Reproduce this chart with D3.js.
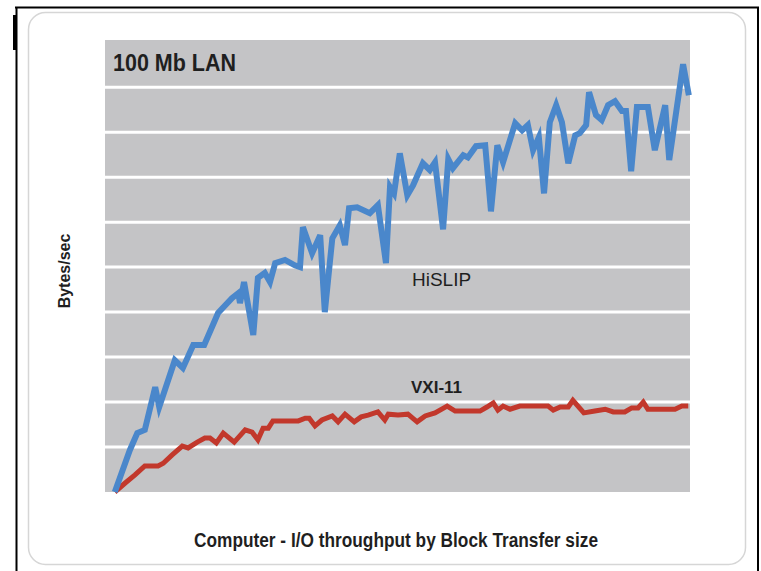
<html>
    <head>
        <script src="https://d3js.org/d3.v7.min.js"></script>
        <title>100 Mb LAN throughput</title>
        <style>
            body { margin: 0; background: white; }
        </style>
    </head>
    <body>
        <div id="chart-container"></div>
        <script>
            // block transfer size (arbitrary index 0..100) and rate (grid units)
            const hislipBlock = [0.3, 2.9, 4.2, 5.5, 7.3, 8.0, 10.7, 12.1, 13.9, 15.8, 18.2, 20.6, 21.7, 22.0, 22.7, 24.3, 25.1, 26.3, 27.2, 28.1,
                29.8, 31.5, 32.4, 32.9, 34.5, 35.9, 36.7, 38.0, 39.3, 40.2, 40.9, 42.3, 44.5, 45.9, 47.3, 48.0, 48.7, 49.7, 51.0, 52.0,
                53.7, 54.9, 55.8, 57.2, 58.1, 58.9, 60.7, 61.5, 62.9, 64.5, 65.5, 66.6, 67.6, 69.7, 70.9, 71.9, 72.8, 73.8, 74.7, 75.7,
                76.8, 77.8, 78.9, 80.1, 80.9, 82.0, 82.5, 83.7, 84.7, 85.8, 87.0, 88.2, 88.9, 89.8, 90.8, 92.7, 93.9, 95.7, 96.4, 98.8, 99.8];
            const hislipRate = [0.0, 0.93, 1.31, 1.38, 2.33, 1.89, 2.93, 2.76, 3.27, 3.27, 3.98, 4.31, 4.42, 4.20, 4.67, 3.49, 4.76, 4.87, 4.67, 5.09,
                5.16, 5.04, 5.00, 5.89, 5.31, 5.71, 4.00, 5.64, 5.93, 5.49, 6.31, 6.33, 6.20, 6.38, 5.09, 6.78, 6.64, 7.53, 6.60, 6.82,
                7.31, 7.16, 7.33, 5.84, 7.40, 7.20, 7.49, 7.44, 7.69, 7.71, 6.24, 7.71, 7.33, 8.20, 8.04, 8.16, 7.60, 7.89, 6.64, 8.22,
                8.60, 8.22, 7.31, 7.93, 7.98, 8.16, 8.89, 8.38, 8.27, 8.60, 8.69, 8.47, 8.47, 7.13, 8.56, 8.56, 7.60, 8.60, 7.38, 9.51, 8.82];

            const vxiBlock = [0.3, 2.1, 3.8, 5.5, 7.8, 8.7, 10.2, 12.0, 13.0, 14.6, 15.9, 16.8, 17.9, 19.1, 21.0, 22.9, 24.1, 25.1, 26.0, 26.9,
                27.7, 32.1, 33.3, 34.0, 35.0, 36.2, 38.0, 39.0, 40.2, 41.8, 43.0, 44.2, 45.9, 47.1, 47.7, 49.4, 51.1, 52.7, 54.1, 55.8,
                57.9, 59.3, 63.6, 64.8, 65.9, 66.7, 67.6, 68.8, 70.5, 75.4, 76.3, 77.5, 78.9, 79.7, 81.6, 83.5, 85.3, 86.7, 88.7, 89.9,
                91.0, 91.9, 92.7, 97.4, 98.6, 99.7];
            const vxiRate = [0.0, 0.20, 0.38, 0.58, 0.58, 0.64, 0.82, 1.02, 0.98, 1.11, 1.20, 1.20, 1.09, 1.31, 1.11, 1.38, 1.33, 1.16, 1.42, 1.42,
                1.58, 1.58, 1.64, 1.64, 1.47, 1.60, 1.69, 1.56, 1.73, 1.56, 1.67, 1.71, 1.78, 1.60, 1.73, 1.71, 1.73, 1.56, 1.69, 1.76,
                1.91, 1.80, 1.80, 1.89, 1.98, 1.82, 1.91, 1.84, 1.91, 1.91, 1.82, 1.89, 1.89, 2.04, 1.76, 1.80, 1.84, 1.78, 1.78, 1.87,
                1.87, 2.00, 1.84, 1.84, 1.91, 1.91];

            const gridTicks = [1, 2, 3, 4, 5, 6, 7, 8, 9];
            const seriesNames = ["HiSLIP", "VXI-11"];
            const titleText = "100 Mb LAN";
            const yLabel = "Bytes/sec";
            const xLabel = "Computer - I/O throughput by Block Transfer size";

            const w = 761;
            const h = 571;
            const plotLeft = 105, plotRight = 690, plotTop = 40, plotBottom = 492;

            const svg = d3.select("#chart-container")
                        .append("svg")
                        .attr("width", w)
                        .attr("height", h)
                        .style("display", "block");

            // scan frame
            svg.append("path")
                .attr("d", "M15,7.5 H759 M16.5,7 V571 M758,7 V571")
                .attr("stroke", "black")
                .attr("stroke-width", 2)
                .attr("fill", "none");
            svg.append("rect")
                .attr("x", 13).attr("y", 15)
                .attr("width", 4).attr("height", 35)
                .attr("fill", "black");

            // rounded panel
            svg.append("rect")
                .attr("x", 28.5).attr("y", 12.5)
                .attr("width", 717).attr("height", 552)
                .attr("rx", 17).attr("ry", 17)
                .attr("fill", "white")
                .attr("stroke", "#d6d6d6")
                .attr("stroke-width", 1.5);

            const xScale = d3.scaleLinear()
                            .domain([-1.4, 100])
                            .range([plotLeft, plotRight]);

            const yScale = d3.scaleLinear()
                            .domain([0, 10.05])
                            .range([plotBottom, plotTop]);

            svg //plot background
                .append("rect")
                .attr("x", plotLeft)
                .attr("y", plotTop)
                .attr("width", plotRight - plotLeft)
                .attr("height", plotBottom - plotTop)
                .attr("fill", "#c4c4c6");

            svg //gridlines
                .append("g")
                .selectAll("line")
                .data(gridTicks)
                .enter()
                .append("line")
                .attr("x1", plotLeft)
                .attr("x2", plotRight)
                .attr("y1", (d) => yScale(d))
                .attr("y2", (d) => yScale(d))
                .attr("stroke", "white")
                .attr("stroke-width", 3);

            const line = d3.line()
                        .x((d) => xScale(d[0]))
                        .y((d) => yScale(d[1]));

            svg //VXI-11
                .append("path")
                .datum(d3.zip(vxiBlock, vxiRate))
                .attr("d", line)
                .attr("fill", "none")
                .attr("stroke", "#c2382c")
                .attr("stroke-width", 5);

            svg //HiSLIP
                .append("path")
                .datum(d3.zip(hislipBlock, hislipRate))
                .attr("d", line)
                .attr("fill", "none")
                .attr("stroke", "#4a87cb")
                .attr("stroke-width", 6);

            svg
                .append("text")
                .attr("x", 113)
                .attr("y", 71)
                .attr("textLength", 123)
                .attr("lengthAdjust", "spacingAndGlyphs")
                .style("font-family", "'Liberation Sans Narrow', 'Liberation Sans', Arial, sans-serif")
                .style("font-weight", "bold")
                .style("font-size", "23px")
                .style("fill", "#1f1f1f")
                .text(titleText);

            svg
                .append("text")
                .attr("x", 412)
                .attr("y", 286)
                .style("font-family", "'Liberation Sans', Arial, sans-serif")
                .style("font-size", "19px")
                .style("fill", "#1f1f1f")
                .text(seriesNames[0]);

            svg
                .append("text")
                .attr("x", 411)
                .attr("y", 393)
                .style("font-family", "'Liberation Sans', Arial, sans-serif")
                .style("font-weight", "bold")
                .style("font-size", "17px")
                .style("fill", "#1f1f1f")
                .text(seriesNames[1]);

            svg
                .append("text")
                .attr("transform", "translate(70, 271) rotate(-90)")
                .attr("text-anchor", "middle")
                .style("font-family", "'Liberation Sans', Arial, sans-serif")
                .style("font-weight", "bold")
                .style("font-size", "16px")
                .style("fill", "#1f1f1f")
                .text(yLabel);

            svg
                .append("text")
                .attr("x", 194)
                .attr("y", 547)
                .attr("textLength", 404)
                .attr("lengthAdjust", "spacingAndGlyphs")
                .style("font-family", "'Liberation Sans Narrow', 'Liberation Sans', Arial, sans-serif")
                .style("font-weight", "bold")
                .style("font-size", "20px")
                .style("fill", "#1f1f1f")
                .text(xLabel);
        </script>
    </body>
</html>
